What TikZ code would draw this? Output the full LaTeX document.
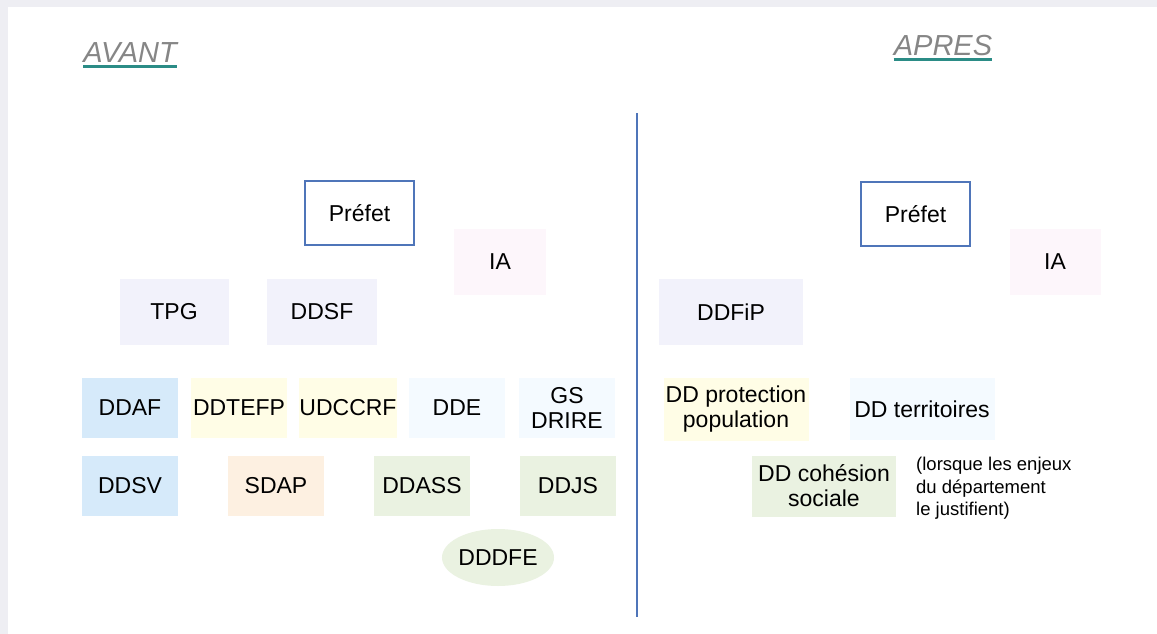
\documentclass[tikz,border=0pt]{standalone}
\usepackage{fontspec}
\setmainfont{Liberation Sans}
\usetikzlibrary{shapes.geometric}
\definecolor{bggray}{HTML}{EEEEF3}
\definecolor{frameblue}{HTML}{4F75B9}
\definecolor{headteal}{HTML}{2B8C86}
\definecolor{headgray}{HTML}{868686}
\definecolor{lavender}{HTML}{F2F2FB}
\definecolor{palepink}{HTML}{FDF6FB}
\definecolor{skyblue}{HTML}{D6EAFA}
\definecolor{paleyellow}{HTML}{FFFDE6}
\definecolor{iceblue}{HTML}{F4FAFF}
\definecolor{peach}{HTML}{FDF0E1}
\definecolor{palegreen}{HTML}{EAF2E1}

\begin{document}
\begin{tikzpicture}[x=1pt,y=-1pt]
\tikzstyle{every node}+=[inner sep=0pt, align=center, font=\fontsize{23}{25}\selectfont]
\tikzstyle{head}=[anchor=base, text=headgray, font=\fontsize{29}{31}\selectfont\itshape]
\tikzstyle{underline}=[headteal, line width=3pt]
\tikzstyle{prefet}=[draw=frameblue, line width=2pt, fill=white, minimum width=109pt, minimum height=64pt]
\tikzstyle{box}=[rectangle, minimum height=66pt]
\tikzstyle{cell}=[rectangle, minimum width=96pt, minimum height=60pt]
\fill [bggray] (0,0) rectangle (1157,634);
\fill [white] (8,7) rectangle (1157,634);
\node [head] (avant) at (130,63) {AVANT};
\draw [underline] ([yshift=-4pt]avant.base west) -- ([yshift=-4pt]avant.base east);
\node [head] (apres) at (943,56) {APRES};
\draw [underline] ([yshift=-4pt]apres.base west) -- ([yshift=-4pt]apres.base east);
\coordinate (sep top) at (637,113);
\coordinate (sep bottom) at (637,617);
\draw [frameblue, line width=2pt] (sep top) -- (sep bottom);
\node [prefet] (prefet left) at (359.5,213) {Préfet};
\node [box, fill=palepink, minimum width=92pt] (ia left) at (500,262) {IA};
\node [box, fill=lavender, minimum width=109pt] (tpg) at (174,312) {TPG};
\node [box, fill=lavender, minimum width=110pt] (ddsf) at (322,312) {DDSF};
\node [cell, fill=skyblue] (ddaf) at (130,408) {DDAF};
\node [cell, fill=paleyellow] (ddtefp) at (239,408) {DDTEFP};
\node [cell, fill=paleyellow] (udccrf) at (348,408) {UDCCRF};
\node [cell, fill=iceblue] (dde) at (457,408) {DDE};
\node [cell, fill=iceblue] (gs drire) at (567,408) {GS\\DRIRE};
\node [cell, fill=skyblue] (ddsv) at (130,486) {DDSV};
\node [cell, fill=peach] (sdap) at (276,486) {SDAP};
\node [cell, fill=palegreen] (ddass) at (422,486) {DDASS};
\node [cell, fill=palegreen] (ddjs) at (568,486) {DDJS};
\node [ellipse, fill=palegreen, minimum width=110pt, minimum height=57pt] (dddfe) at (498,557.5) {DDDFE};
\node [prefet] (prefet right) at (915.5,214) {Préfet};
\node [box, fill=palepink, minimum width=91pt] (ia right) at (1055,262) {IA};
\node [box, fill=lavender, minimum width=144pt] (ddfip) at (731,312) {DDFiP};
\node [cell, fill=paleyellow, minimum width=145pt, minimum height=63pt] (dd protection) at (736,409) {DD protection\\population};
\node [cell, fill=iceblue, minimum width=145pt, minimum height=62pt] (dd territoires) at (922,409) {DD territoires};
\node [cell, fill=palegreen, minimum width=144pt, minimum height=61pt] (dd cohesion) at (824,486) {DD cohésion\\sociale};
\node [anchor=north west, align=left, font=\fontsize{18.5}{22.5}\selectfont] (enjeux) at (916,457) {(lorsque les enjeux\\du département\\le justifient)};
\end{tikzpicture}
\end{document}
